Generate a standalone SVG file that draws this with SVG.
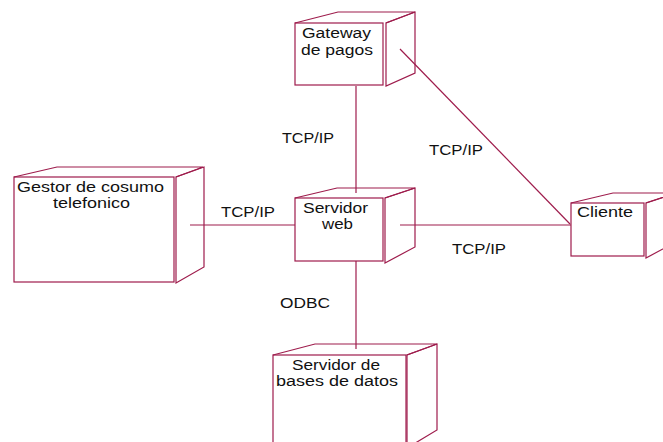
<svg xmlns="http://www.w3.org/2000/svg" width="663" height="442" viewBox="0 0 663 442">
<style>
.n{fill:none;stroke:#9E1C4C;stroke-width:1.2;stroke-linejoin:miter}
.c{fill:none;stroke:#9E1C4C;stroke-width:1.2}
text{font-family:"Liberation Sans",Arial,sans-serif;font-size:14px;fill:#111}
</style>
<rect width="663" height="442" fill="#fff"/>
<g id="connectors">
<line class="c" x1="356" y1="86" x2="356" y2="193"/>
<line class="c" x1="400" y1="49" x2="570" y2="224"/>
<line class="c" x1="190" y1="225" x2="295" y2="225"/>
<line class="c" x1="400" y1="225" x2="571" y2="225"/>
<line class="c" x1="356" y1="261" x2="356" y2="349"/>
<text x="282" y="143" textLength="52" lengthAdjust="spacingAndGlyphs">TCP/IP</text>
<text x="429" y="155" textLength="54" lengthAdjust="spacingAndGlyphs">TCP/IP</text>
<text x="221" y="217" textLength="54" lengthAdjust="spacingAndGlyphs">TCP/IP</text>
<text x="452" y="254" textLength="54" lengthAdjust="spacingAndGlyphs">TCP/IP</text>
<text x="280" y="308" textLength="50" lengthAdjust="spacingAndGlyphs">ODBC</text>
</g>
<g id="gateway">
<rect class="n" x="295" y="23" width="88" height="62"/>
<polyline class="n" points="295,23 338,12 415,12 386,23"/>
<polygon class="n" points="386,23 386,86 415,73 415,12"/>
<text x="302" y="38" textLength="69" lengthAdjust="spacingAndGlyphs">Gateway</text>
<text x="301" y="55" textLength="72" lengthAdjust="spacingAndGlyphs">de pagos</text>
</g>
<g id="servidor-web">
<rect class="n" x="295" y="198" width="88" height="63"/>
<polyline class="n" points="295,198 337,188 415,188 385,198"/>
<polygon class="n" points="385,198 385,263 415,247 415,188"/>
<text x="303" y="213" textLength="65" lengthAdjust="spacingAndGlyphs">Servidor</text>
<text x="322" y="229" textLength="31" lengthAdjust="spacingAndGlyphs">web</text>
</g>
<g id="gestor">
<rect class="n" x="14" y="177" width="160" height="105"/>
<polyline class="n" points="14,177 57,167 203,167 176,177"/>
<polygon class="n" points="176,177 176,283 204,267 204,167"/>
<text x="17" y="192" textLength="147" lengthAdjust="spacingAndGlyphs">Gestor de cosumo</text>
<text x="53" y="208" textLength="77" lengthAdjust="spacingAndGlyphs">telefonico</text>
</g>
<g id="cliente">
<rect class="n" x="571" y="203" width="73" height="53"/>
<polyline class="n" points="571,203 613,193 676,193 646,203"/>
<polygon class="n" points="646,203 646,258 676,242 676,193"/>
<text x="577" y="217" textLength="56" lengthAdjust="spacingAndGlyphs">Cliente</text>
</g>
<g id="servidor-bd">
<rect class="n" x="273" y="355" width="133" height="100"/>
<polyline class="n" points="273,355 315,344 437,344 407,355"/>
<polygon class="n" points="407,355 407,448 437,430 437,344"/>
<text x="292" y="370" textLength="88" lengthAdjust="spacingAndGlyphs">Servidor de</text>
<text x="276" y="386" textLength="122" lengthAdjust="spacingAndGlyphs">bases de datos</text>
</g>
</svg>
